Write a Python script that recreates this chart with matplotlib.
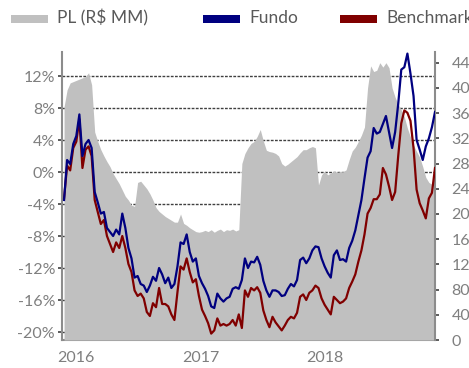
import pandas as pd
import matplotlib
matplotlib.use('Agg')
import matplotlib.pyplot as plt
from matplotlib.patches import Rectangle
import matplotlib.dates as mdates

plt.rcParams['font.family'] = ['Lato', 'DejaVu Sans']

# série semanal (9 dias) de nov/2015 a nov/2018
datas = pd.date_range('2015-11-27', periods=122, freq='9D')

# retorno acumulado do fundo (%)
fundo = [-3.5, 1.5, 1.0, 3.5, 4.5, 7.2, 2.0, 3.5, 4.0, 3.0,
         -2.5, -3.8, -5.2, -5.0, -7.0, -7.5, -8.0, -7.2, -7.8, -5.2,
         -7.0, -9.5, -10.8, -13.2, -13.0, -14.0, -14.2, -15.0, -14.2, -13.1,
         -13.6, -12.0, -12.8, -13.9, -13.2, -14.5, -14.0, -11.8, -8.8, -9.0,
         -7.8, -10.0, -11.2, -10.8, -13.0, -13.9, -14.6, -15.5, -16.8, -17.0,
         -15.2, -15.8, -16.2, -15.8, -15.6, -14.6, -14.4, -14.6, -13.5, -10.8,
         -12.0, -11.2, -11.3, -10.6, -11.6, -13.6, -14.8, -15.6, -14.8, -14.8,
         -15.0, -15.5, -15.4, -14.6, -14.0, -14.3, -13.5, -11.0, -10.7, -11.4,
         -10.8, -9.8, -9.3, -9.4, -10.8, -11.8, -12.6, -13.2, -10.4, -9.8,
         -11.0, -10.9, -11.2, -9.5, -8.6, -7.3, -5.4, -3.5, -0.8, 1.8,
         2.6, 5.5, 4.8, 5.0, 6.0, 7.0, 5.0, 3.0, 5.0, 8.5,
         12.8, 13.1, 14.8, 12.3, 9.5, 4.0, 2.8, 1.5, 3.2, 4.2,
         5.6, 7.5]

# retorno acumulado do benchmark (%)
benchmark = [-3.3, 0.8, 0.2, 3.0, 3.8, 6.6, 0.5, 2.8, 3.2, 2.0,
             -3.5, -5.0, -6.5, -6.0, -8.0, -9.0, -10.0, -8.8, -9.5, -8.0,
             -9.5, -11.5, -12.5, -14.8, -15.5, -15.2, -15.8, -17.5, -18.0, -16.4,
             -16.9, -14.5, -16.5, -16.5, -16.8, -17.8, -18.5, -15.0, -11.8, -12.2,
             -10.8, -12.5, -13.8, -13.4, -15.5, -17.2, -18.0, -18.9, -20.2, -19.8,
             -18.3, -19.2, -19.0, -19.2, -19.0, -18.5, -19.2, -17.8, -19.5, -14.8,
             -15.6, -14.5, -14.8, -14.4, -15.1, -17.3, -18.5, -19.4, -18.1, -18.8,
             -19.3, -19.8, -19.2, -18.5, -18.1, -18.3, -17.6, -15.6, -15.3, -16.0,
             -15.1, -14.8, -14.2, -14.5, -15.8, -16.6, -17.2, -17.8, -15.6, -16.0,
             -16.4, -16.2, -15.8, -14.5, -13.7, -12.8, -11.2, -9.8, -7.8, -5.2,
             -4.5, -3.4, -3.4, -2.8, 0.5, -0.3, -1.8, -3.5, -2.5, 2.0,
             6.1, 7.7, 7.4, 6.4, 3.0, -2.2, -3.9, -4.8, -5.8, -3.3,
             -2.6, 0.5]

# patrimônio líquido (R$ MM)
pl = [370, 397, 408, 410, 412, 414, 416, 418, 424, 405,
      330, 315, 302, 292, 283, 275, 264, 256, 248, 238,
      228, 222, 214, 212, 250, 252, 246, 240, 232, 222,
      210, 204, 200, 196, 193, 190, 187, 187, 200, 185,
      182, 178, 175, 172, 171, 172, 174, 172, 175, 171,
      174, 176, 172, 175, 174, 176, 173, 175, 280, 296,
      305, 312, 315, 323, 334, 316, 301, 299, 298, 296,
      292, 280, 276, 279, 283, 287, 291, 297, 302, 302,
      305, 307, 305, 246, 262, 268, 262, 265, 268, 266,
      267, 267, 270, 286, 300, 306, 315, 325, 338, 400,
      435, 426, 428, 440, 433, 440, 432, 400, 385, 374,
      365, 354, 336, 322, 309, 299, 290, 275, 258, 250,
      247, 246]

pct_ticks = [12, 8, 4, 0, -4, -8, -12, -16, -20]
pl_ticks = list(range(0, 441, 40))

tick_color = '#7f7f7f'
spine_color = '#8c8c8c'

fig = plt.figure(figsize=(4.69, 3.68), dpi=100)
rect = [62 / 469, 1 - 340 / 368, 373 / 469, 288 / 368]

# eixo base: escala % e grade
ax = fig.add_axes(rect)
ax.set_ylim(-21, 15)
ax.set_yticks(pct_ticks)
ax.set_yticklabels([f'{t}%' for t in pct_ticks])
ax.grid(axis='y', color='#404040', linestyle=(0, (2, 1)), linewidth=1.0)
ax.grid(axis='x', visible=False)
ax.set_axisbelow(True)

# eixo direito: PL em área
ax2 = ax.twinx()
ax2.fill_between(datas, pl, 0, color='#c0c0c0', linewidth=0)
ax2.set_ylim(0, 457)
ax2.set_yticks(pl_ticks)
ax2.patch.set_visible(False)

# linhas por cima da área
ax3 = fig.add_axes(rect, sharex=ax, sharey=ax)
ax3.plot(datas, benchmark, color='#800000', linewidth=1.6)
ax3.plot(datas, fundo, color='#000080', linewidth=1.6)
ax3.axis('off')
ax3.patch.set_visible(False)

ax.set_xlim(pd.Timestamp('2015-11-21'), pd.Timestamp('2018-11-20'))
ax.xaxis.set_major_locator(mdates.YearLocator())
ax.xaxis.set_major_formatter(mdates.DateFormatter('%Y'))

for a in (ax, ax2):
    for s in a.spines.values():
        s.set_visible(False)
ax.spines['left'].set_visible(True)
ax.spines['bottom'].set_visible(True)
ax2.spines['right'].set_visible(True)
for s in (ax.spines['left'], ax.spines['bottom'], ax2.spines['right']):
    s.set_color(spine_color)
    s.set_linewidth(1.5)

ax.tick_params(axis='y', colors='#404040', labelcolor=tick_color, length=3, width=1.2,
               pad=2, labelsize=11.5)
ax.tick_params(axis='x', length=0, pad=8, labelcolor=tick_color, labelsize=11.5)
ax2.tick_params(axis='y', colors='#404040', labelcolor=tick_color, length=3, width=1.2,
                pad=9, labelsize=11.5)

# legenda no topo
legenda = [('PL (R$ MM)', '#c0c0c0', 11), ('Fundo', '#000080', 203),
           ('Benchmark', '#800000', 340)]
for nome, cor, x0 in legenda:
    fig.add_artist(Rectangle((x0 / 469, 1 - 23 / 368), 37 / 469, 8 / 368,
                             transform=fig.transFigure, color=cor, linewidth=0))
    fig.text((x0 + 46) / 469, 1 - 18 / 368, nome, color='#595959',
             fontsize=12.5, va='center', ha='left')

fig.savefig('out.png', dpi=100)
